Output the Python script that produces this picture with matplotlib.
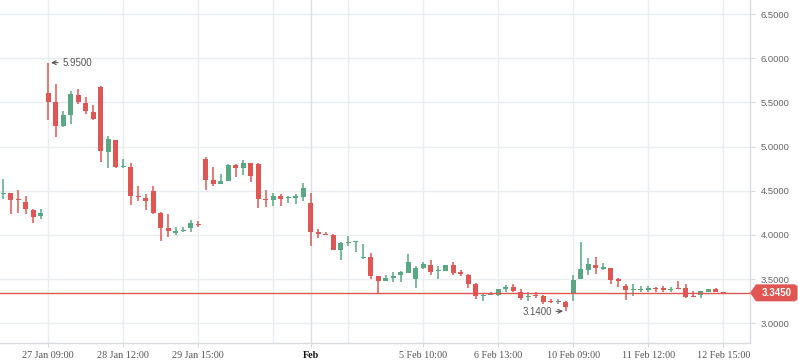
import matplotlib
matplotlib.use("Agg")
import matplotlib.pyplot as plt
from matplotlib.patches import Polygon
from matplotlib.transforms import IdentityTransform
import numpy as np

# OHLC per candle
opens = [4.46, 4.47, 4.40, 4.37, 4.28, 4.21, 5.61, 5.50, 5.23, 5.36,
         5.58, 5.49, 5.39, 5.67, 4.94, 5.07, 4.77, 4.77, 4.44, 4.42,
         4.50, 4.25, 4.08, 4.02, 4.04, 4.08, 4.12, 4.86, 4.62, 4.58,
         4.61, 4.79, 4.76, 4.81, 4.80, 4.41, 4.40, 4.44, 4.42, 4.42,
         4.43, 4.36, 4.03, 4.01, 4.00, 3.83, 3.91, 3.925, 3.74, 3.75,
         3.53, 3.48, 3.515, 3.55, 3.57, 3.505, 3.63, 3.66, 3.59, 3.595,
         3.66, 3.58, 3.545, 3.445, 3.305, 3.318, 3.32, 3.39, 3.41, 3.355,
         3.298, 3.32, 3.31, 3.245, 3.244, 3.245, 3.34, 3.50, 3.60, 3.66,
         3.62, 3.625, 3.50, 3.42, 3.375, 3.373, 3.38, 3.40, 3.40, 3.38,
         3.40, 3.40, 3.308, 3.317, 3.355, 3.388, 3.358]
highs = [4.63, 4.47, 4.51, 4.44, 4.29, 4.29, 5.95, 5.71, 5.40, 5.63,
         5.65, 5.56, 5.47, 5.69, 5.12, 5.08, 4.86, 4.81, 4.55, 4.46,
         4.55, 4.26, 4.24, 4.09, 4.09, 4.17, 4.16, 4.88, 4.77, 4.69,
         4.80, 4.80, 4.85, 4.82, 4.81, 4.51, 4.48, 4.46, 4.44, 4.46,
         4.59, 4.47, 4.07, 4.03, 4.01, 3.92, 3.99, 3.93, 3.90, 3.80,
         3.53, 3.55, 3.58, 3.59, 3.78, 3.645, 3.69, 3.72, 3.645, 3.66,
         3.69, 3.60, 3.555, 3.46, 3.33, 3.36, 3.39, 3.43, 3.445, 3.39,
         3.35, 3.35, 3.32, 3.27, 3.27, 3.255, 3.545, 3.92, 3.74, 3.75,
         3.68, 3.625, 3.515, 3.445, 3.445, 3.42, 3.42, 3.41, 3.42, 3.41,
         3.48, 3.445, 3.365, 3.362, 3.388, 3.40, 3.358]
lows = [4.41, 4.24, 4.25, 4.24, 4.13, 4.18, 5.30, 5.11, 5.22, 5.26,
        5.48, 5.37, 5.30, 4.83, 4.76, 4.76, 4.76, 4.34, 4.38, 4.28,
        4.24, 3.93, 3.98, 4.00, 4.03, 4.03, 4.09, 4.51, 4.55, 4.58,
        4.61, 4.66, 4.68, 4.60, 4.31, 4.32, 4.33, 4.33, 4.36, 4.35,
        4.38, 3.88, 3.96, 4.00, 3.83, 3.72, 3.87, 3.81, 3.73, 3.50,
        3.33, 3.48, 3.47, 3.47, 3.57, 3.40, 3.61, 3.55, 3.505, 3.595,
        3.55, 3.535, 3.40, 3.275, 3.255, 3.315, 3.31, 3.36, 3.35, 3.265,
        3.25, 3.285, 3.22, 3.235, 3.22, 3.14, 3.255, 3.50, 3.55, 3.56,
        3.60, 3.44, 3.415, 3.265, 3.31, 3.355, 3.36, 3.355, 3.355, 3.355,
        3.392, 3.29, 3.295, 3.29, 3.355, 3.355, 3.345]
closes = [4.47, 4.40, 4.39, 4.29, 4.20, 4.25, 5.50, 5.23, 5.36, 5.60,
          5.50, 5.40, 5.31, 4.95, 5.09, 4.77, 4.78, 4.44, 4.43, 4.38,
          4.25, 4.08, 4.04, 4.04, 4.06, 4.14, 4.11, 4.62, 4.58, 4.61,
          4.79, 4.76, 4.81, 4.67, 4.41, 4.40, 4.44, 4.41, 4.43, 4.44,
          4.53, 4.03, 4.01, 4.00, 3.83, 3.91, 3.92, 3.93, 3.75, 3.54,
          3.48, 3.51, 3.53, 3.58, 3.69, 3.625, 3.67, 3.585, 3.595, 3.66,
          3.575, 3.555, 3.45, 3.31, 3.32, 3.318, 3.39, 3.41, 3.365, 3.285,
          3.305, 3.313, 3.245, 3.238, 3.244, 3.19, 3.49, 3.615, 3.67, 3.625,
          3.627, 3.49, 3.48, 3.375, 3.38, 3.38, 3.40, 3.388, 3.377, 3.388,
          3.392, 3.30, 3.30, 3.362, 3.388, 3.355, 3.345]

tick_pos = [6, 16, 26, 41, 56, 66, 76, 86, 96]
tick_labels = ['27 Jan 09:00', '28 Jan 12:00', '29 Jan 15:00', 'Feb',
               '5 Feb 10:00', '6 Feb 13:00', '10 Feb 09:00', '11 Feb 12:00', '12 Feb 15:00']
grid_x = [6, 16, 26, 36, 46, 56, 66, 76, 86, 96]
y_ticks = [3.0, 3.5, 4.0, 4.5, 5.0, 5.5, 6.0, 6.5]
last_price = 3.345

RED = '#e05653'
GREEN = '#58a883'
GRAY = '#8a8a8a'
GRID = '#eaedf0'

W, H = 798, 363
fig = plt.figure(figsize=(W / 100, H / 100), dpi=100)
ax_l, ax_r, ax_b = 0.0, 750 / W, (H - 342.5) / H
ax = fig.add_axes([ax_l, ax_b, ax_r - ax_l, 1 - ax_b])

ymin, ymax = 2.783, 6.659
ax.set_xlim(-0.44, 99.56)
ax.set_ylim(ymin, ymax)

o = np.array(opens); c = np.array(closes)
h = np.array(highs); l = np.array(lows)
x = np.arange(len(o))
colors = [GREEN if cc > oo else (RED if cc < oo else GRAY) for oo, cc in zip(o, c)]

# grid
for gy in y_ticks:
    ax.axhline(gy, color=GRID, lw=1, zorder=0)
for gx in grid_x:
    ax.axvline(gx, color=GRID, lw=1, zorder=0)
ax.axvline(41, color='#dcdfe3', lw=1, zorder=0)

ax.vlines(x, l, h, colors=colors, lw=1.1, zorder=2)
body_h = np.maximum(np.abs(c - o), 0.012)
ax.bar(x, body_h, bottom=np.minimum(o, c), width=0.68, color=colors, lw=0, zorder=3)

ax.axhline(last_price, color=RED, lw=1, zorder=4)

# high / low markers
ax.annotate('5.9500', xy=(6, 5.95), xytext=(10, 0), textcoords='offset points',
            va='center', ha='left', fontsize=7, color='#555555', family='Liberation Sans',
            arrowprops=dict(arrowstyle='->', color='#555555', lw=0.8, shrinkA=1, shrinkB=2))
ax.annotate('3.1400', xy=(75, 3.14), xytext=(-10, -1), textcoords='offset points',
            va='center', ha='right', fontsize=7, color='#555555', family='Liberation Sans',
            arrowprops=dict(arrowstyle='->', color='#555555', lw=0.8, shrinkA=1, shrinkB=2))

# axes styling
for s in ['top', 'left']:
    ax.spines[s].set_visible(False)
for s in ['right', 'bottom']:
    ax.spines[s].set_color('#d8dbdf')
    ax.spines[s].set_linewidth(1)

ax.yaxis.tick_right()
ax.set_yticks(y_ticks)
ax.set_yticklabels(['%.4f' % v for v in y_ticks], family='Liberation Sans',
                   fontsize=6.8, color='#666666')
ax.tick_params(axis='y', length=3.5, width=0.8, color='#d8dbdf', pad=4)

ax.set_xticks(tick_pos)
ax.set_xticklabels(tick_labels, family='Liberation Serif', fontsize=7.3, color='#555555')
ax.tick_params(axis='x', length=3, width=0.8, color='#d8dbdf', pad=3)
for t in ax.get_xticklabels():
    if t.get_text() == 'Feb':
        t.set_color('#111111')
        t.set_fontweight('bold')

# last price tag (pixel coords)
yc = (last_price - ymin) / (ymax - ymin) * (1 - ax_b) * H + ax_b * H
tag = Polygon([(750, yc), (756, yc + 8.5), (795, yc + 8.5), (797.5, yc + 6.5),
               (797.5, yc - 6.5), (795, yc - 8.5), (756, yc - 8.5)],
              closed=True, facecolor=RED, edgecolor='none', transform=IdentityTransform())
fig.add_artist(tag)
fig.text(777 / W, yc / H, '%.4f' % last_price, color='white', fontsize=7, fontweight='bold',
         family='Liberation Sans', ha='center', va='center')

fig.savefig('out.png', dpi=100)
